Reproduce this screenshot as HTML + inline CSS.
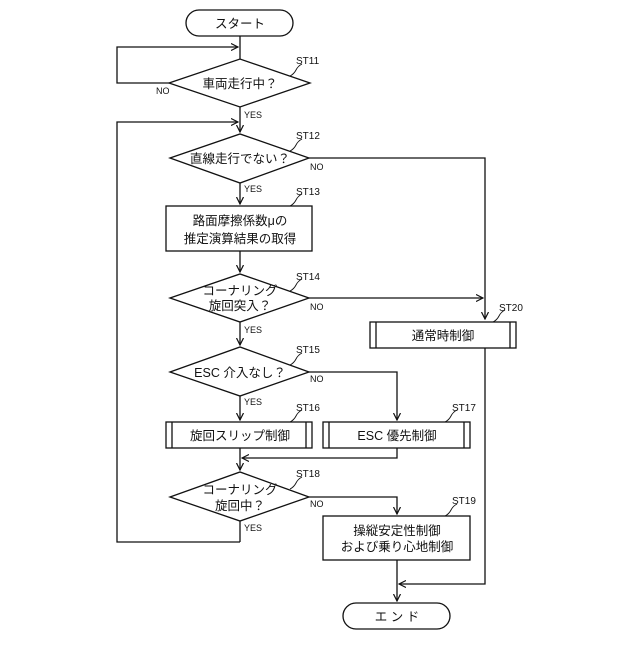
<!DOCTYPE html>
<html><head><meta charset="utf-8"><style>
body{margin:0;background:#fff}
svg text{font-family:"Liberation Sans","Noto Sans CJK JP",sans-serif;fill:#111}
</style></head><body>
<svg width="640" height="640" viewBox="0 0 640 640" xmlns="http://www.w3.org/2000/svg">
<defs><marker id="a" markerWidth="8" markerHeight="8" refX="7" refY="4" orient="auto" markerUnits="userSpaceOnUse"><path d="M0,0.5 L7,4 L0,7.5" fill="none" stroke="#111" stroke-width="1.2"/></marker></defs>
<g fill="none" stroke="#111" stroke-width="1.3">
<rect x="186" y="10" width="107" height="26" rx="13"/>
<rect x="343" y="603" width="107" height="26" rx="13"/>
<path d="M240,36 V59"/>
<path d="M169,83 L240,59 L310,83 L240,107 Z"/>
<path d="M169,83 H117 V47 H238" marker-end="url(#a)"/>
<path d="M240,107 V132" marker-end="url(#a)"/>
<path d="M240,542 H117 V122 H238" marker-end="url(#a)"/>
<path d="M170,158 L240,134 L309,158 L240,183 Z"/>
<path d="M309,158 H485 V319" marker-end="url(#a)"/>
<path d="M240,183 V204" marker-end="url(#a)"/>
<rect x="166" y="206" width="146" height="45"/>
<path d="M240,251 V272" marker-end="url(#a)"/>
<path d="M170,298 L240,274 L309,298 L240,322 Z"/>
<path d="M309,298 H483" marker-end="url(#a)"/>
<rect x="370" y="322" width="146" height="26"/><path d="M376,322 V348 M510,322 V348"/>
<path d="M240,322 V345" marker-end="url(#a)"/>
<path d="M170,372 L240,347 L309,372 L240,396 Z"/>
<path d="M309,372 H397 V420" marker-end="url(#a)"/>
<path d="M240,396 V420" marker-end="url(#a)"/>
<rect x="166" y="422" width="146" height="26"/><path d="M172,422 V448 M306,422 V448"/>
<rect x="323" y="422" width="147" height="26"/><path d="M329,422 V448 M464,422 V448"/>
<path d="M397,448 V458 H242" marker-end="url(#a)"/>
<path d="M240,448 V470" marker-end="url(#a)"/>
<path d="M170,497 L240,472 L309,497 L240,521 Z"/>
<path d="M309,497 H397 V514" marker-end="url(#a)"/>
<path d="M240,521 V542"/>
<rect x="323" y="516" width="147" height="44"/>
<path d="M485,348 V584 H399" marker-end="url(#a)"/>
<path d="M397,560 V601" marker-end="url(#a)"/>
<g stroke-width="0.9">
<path d="M290,76 q4,-2 6,-6 q2,-4 6,-6"/>
<path d="M290,151 q4,-2 6,-6 q2,-4 6,-6"/>
<path d="M290,206 q4,-2 6,-6 q2,-4 6,-6"/>
<path d="M290,291 q4,-2 6,-6 q2,-4 6,-6"/>
<path d="M290,365 q4,-2 6,-6 q2,-4 6,-6"/>
<path d="M290,422 q4,-2 6,-6 q2,-4 6,-6"/>
<path d="M290,489 q4,-2 6,-6 q2,-4 6,-6"/>
<path d="M445,422 q4,-2 6,-6 q2,-4 6,-6"/>
<path d="M445,516 q4,-2 6,-6 q2,-4 6,-6"/>
<path d="M493,322 q4,-2 6,-6 q2,-4 6,-6"/>
</g>
</g>
<g font-size="12.5" text-anchor="middle">
<text x="240" y="28">スタート</text>
<text x="397" y="621">エ ン ド</text>
<text x="240" y="88">車両走行中？</text>
<text x="240" y="163">直線走行でない？</text>
<text x="240" y="225">路面摩擦係数μの</text>
<text x="240" y="243">推定演算結果の取得</text>
<text x="240" y="295">コーナリング</text>
<text x="240" y="310">旋回突入？</text>
<text x="443" y="340">通常時制御</text>
<text x="240" y="377">ESC 介入なし？</text>
<text x="240" y="440">旋回スリップ制御</text>
<text x="397" y="440">ESC 優先制御</text>
<text x="240" y="494">コーナリング</text>
<text x="240" y="510">旋回中？</text>
<text x="397" y="535">操縦安定性制御</text>
<text x="397" y="551">および乗り心地制御</text>
</g>
<g font-size="9">
<text x="156" y="94">NO</text>
<text x="244" y="118">YES</text>
<text x="310" y="170">NO</text>
<text x="244" y="192">YES</text>
<text x="310" y="310">NO</text>
<text x="244" y="333">YES</text>
<text x="310" y="382">NO</text>
<text x="244" y="405">YES</text>
<text x="310" y="507">NO</text>
<text x="244" y="531">YES</text>
</g>
<g font-size="10">
<text x="296" y="64">ST11</text>
<text x="296" y="139">ST12</text>
<text x="296" y="195">ST13</text>
<text x="296" y="280">ST14</text>
<text x="296" y="353">ST15</text>
<text x="296" y="411">ST16</text>
<text x="452" y="411">ST17</text>
<text x="296" y="477">ST18</text>
<text x="452" y="504">ST19</text>
<text x="499" y="311">ST20</text>
</g>
</svg>
</body></html>
